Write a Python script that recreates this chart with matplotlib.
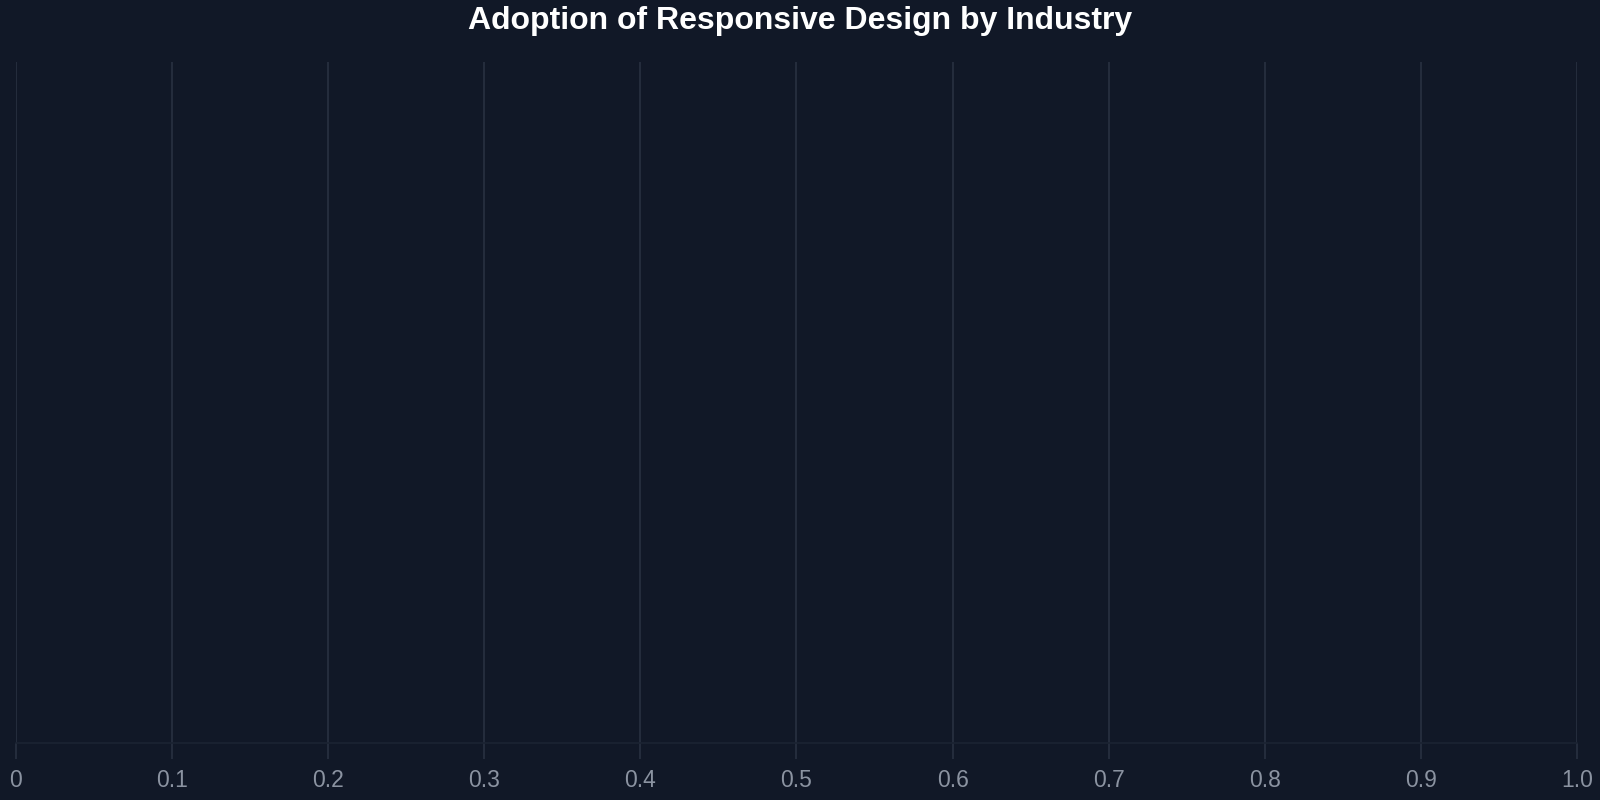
import matplotlib
matplotlib.use('Agg')
import matplotlib.pyplot as plt
import numpy as np

# data (the reference chart shows no bars)
industries = []
adoption = []
xticks = [0, 0.1, 0.2, 0.3, 0.4, 0.5, 0.6, 0.7, 0.8, 0.9, 1.0]
xticklabels = ['0', '0.1', '0.2', '0.3', '0.4', '0.5', '0.6', '0.7', '0.8', '0.9', '1.0']

bg = '#111827'
gridcolor = '#283141'
labelcolor = '#8b93a1'

plt.rcParams['font.family'] = ['Liberation Sans', 'DejaVu Sans']

fig = plt.figure(figsize=(16, 8), dpi=100, facecolor=bg)
ax = fig.add_axes([0.01, 0.07125, 0.9756, 0.85125])
ax.set_facecolor(bg)

ax.barh(industries, adoption, color='#3b82f6')

ax.set_xlim(0, 1.0)
ax.set_ylim(0, 1)
ax.set_xticks(xticks)
ax.set_xticklabels(xticklabels)
ax.set_yticks([])
ax.grid(axis='x', color=gridcolor, linewidth=1.2)
ax.set_axisbelow(True)
for s in ['top', 'right', 'left']:
    ax.spines[s].set_visible(False)
ax.spines['bottom'].set_color('#1b2332')
ax.spines['bottom'].set_linewidth(1.2)
ax.tick_params(axis='x', colors=labelcolor, labelsize=16.5, length=11.5,
               width=1.2, color=gridcolor, pad=7.5)

fig.text(0.5, 0.9635, 'Adoption of Responsive Design by Industry', ha='center',
         va='baseline', color='white', fontsize=23, fontweight='bold')

fig.savefig('out.png', facecolor=bg)
